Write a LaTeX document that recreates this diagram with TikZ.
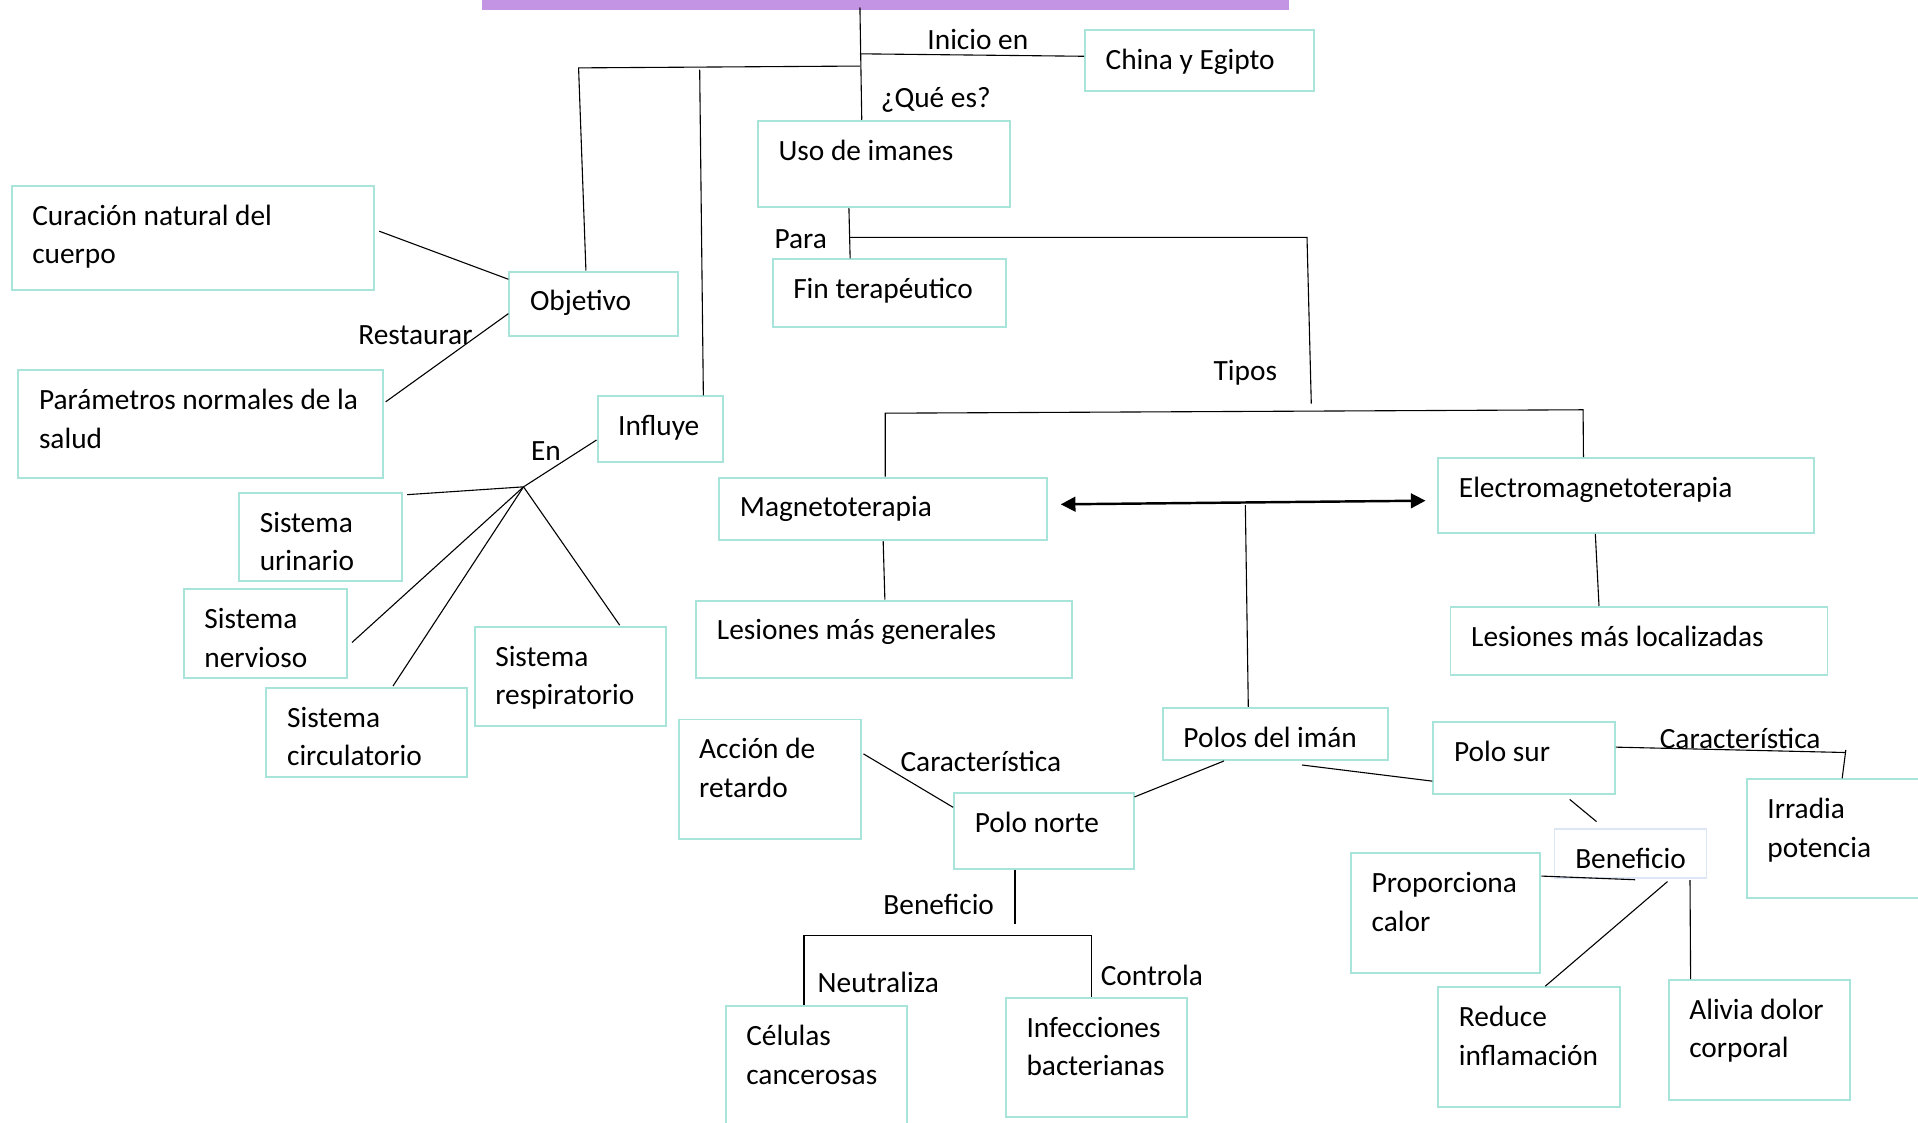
\documentclass[tikz,border=0pt]{standalone}
\usepackage{fontspec}
\setmainfont{Carlito}
\usetikzlibrary{arrows.meta,fit}
\definecolor{bxc}{RGB}{168,228,218}
\definecolor{benc}{RGB}{220,230,244}
\definecolor{barc}{RGB}{196,148,228}
\newcommand\btext[2]{\node[txt,anchor=base west] (#1-t) at ([xshift=17.5pt,yshift=-33pt]#1.north west) {\parbox[t]{400pt}{\raggedright #2}};}
\newcommand\lbl[4]{\node[txt,anchor=base west] (#1) at (#2,#3+1) {#4};}
\begin{document}
\begin{tikzpicture}[x=1pt,y=-1pt,
  bx/.style={draw=bxc,line width=1.6pt,inner sep=0pt,fit={#1}},
  bxl/.style={draw=benc,line width=1.4pt,inner sep=0pt,fit={#1}},
  txt/.style={inner sep=0pt,font=\fontsize{24}{31.5}\selectfont},
  ln/.style={draw=black,line width=0.9pt},
  dbl/.style={draw=black,line width=2pt,{Triangle[length=12pt,width=12pt]}-{Triangle[length=12pt,width=12pt]}}]
\useasboundingbox (0,0) rectangle (1568,917.3);
\clip (0,0) rectangle (1568,917.3);
\fill[barc] (394,-2) rectangle (1054,8);
\coordinate (bar) at (703,6);

% boxes
\node[bx={(887,24.8)(1074,74.5)}] (china) {};
\node[bx={(619.6,98.7)(825.7,169.3)}] (uso) {};
\node[bx={(631.6,212)(822.8,267.7)}] (fin) {};
\node[bx={(9.5,152)(306,237)}] (cur) {};
\node[bx={(416.4,222)(554.6,275)}] (obj) {};
\node[bx={(15,302.8)(312.8,390.4)}] (par) {};
\node[bx={(488.5,324)(591,377.5)}] (inf) {};
\node[bx={(195.5,403)(329,474.8)}] (uri) {};
\node[bx={(150.2,481.8)(283.8,554.5)}] (ner) {};
\node[bx={(217.8,562.5)(381.5,635)}] (cir) {};
\node[bx={(388,512.6)(544.2,593.5)}] (res) {};
\node[bx={(588,390.4)(856.3,441.5)}] (mag) {};
\node[bx={(1175.8,374.6)(1483,435.6)}] (ele) {};
\node[bx={(569.2,491)(876.2,554)}] (lg) {};
\node[bx={(1185.8,496)(1494,551.6)}] (ll) {};
\node[bx={(950.6,578.6)(1134.9,621.3)}] (polos) {};
\node[bx={(1171.8,590.3)(1320.2,648.9)}] (sur) {};
\node[bx={(780,648.6)(926.7,710.4)}] (norte) {};
\node[bx={(554.7,588.2)(703.9,685.8)}] (acc) {};
\node[bx={(593.2,822.6)(741.5,940)}] (cel) {};
\node[bx={(822.3,815.9)(970.6,913.4)}] (infe) {};
\node[bxl={(1270.8,677.6)(1395.1,718)}] (ben) {};
\node[bx={(1428,637)(1590,734.4)}] (irr) {};
\node[bx={(1104.5,697.5)(1259.2,795.4)}] (pro) {};
\node[bx={(1175.8,807)(1324.2,904.7)}] (red) {};
\node[bx={(1364.1,801.2)(1512.5,899.3)}] (ali) {};

% box texts
\btext{china}{China y Egipto}
\btext{uso}{Uso de imanes}
\btext{fin}{Fin terapéutico}
\btext{cur}{Curación natural del\\cuerpo}
\btext{obj}{Objetivo}
\btext{par}{Parámetros normales de la\\salud}
\btext{inf}{Influye}
\btext{uri}{Sistema\\urinario}
\btext{ner}{Sistema\\nervioso}
\btext{cir}{Sistema\\circulatorio}
\btext{res}{Sistema\\respiratorio}
\btext{mag}{Magnetoterapia}
\btext{ele}{Electromagnetoterapia}
\btext{lg}{Lesiones más generales}
\btext{ll}{Lesiones más localizadas}
\btext{polos}{Polos del imán}
\btext{sur}{Polo sur}
\btext{norte}{Polo norte}
\btext{acc}{Acción de\\retardo}
\btext{cel}{Células\\cancerosas}
\btext{infe}{Infecciones\\bacterianas}
\btext{ben}{Beneficio}
\btext{irr}{Irradia\\potencia}
\btext{pro}{Proporciona\\calor}
\btext{red}{Reduce\\inflamación}
\btext{ali}{Alivia dolor\\corporal}

% labels
\lbl{l-inicio}{758}{39.4}{Inicio en}
\lbl{l-que}{720}{87}{¿Qué es?}
\lbl{l-para}{633}{202}{Para}
\lbl{l-rest}{292.8}{281}{Restaurar}
\lbl{l-en}{434}{375.8}{En}
\lbl{l-tipos}{992}{310}{Tipos}
\lbl{l-carL}{736}{630}{Característica}
\lbl{l-benL}{722}{747}{Beneficio}
\lbl{l-neu}{668.3}{810}{Neutraliza}
\lbl{l-con}{899.7}{805}{Controla}
\lbl{l-carR}{1356.7}{610.7}{Característica}

% junctions
\coordinate (jL) at (703,54);
\coordinate (jLL) at (473,55.5);
\coordinate (jI) at (703,44);
\coordinate (jP) at (694.8,194);
\coordinate (jPR) at (1068.5,194);
\coordinate (jT) at (1072,330);
\coordinate (jTL) at (723.7,337.8);
\coordinate (jTR) at (1294.2,335);
\coordinate (fan) at (428,398);
\coordinate (arrL) at (867.2,412.3);
\coordinate (arrR) at (1165.4,409.3);
\coordinate (arrM) at (1018.1,413);
\coordinate (jB) at (829.8,755.2);
\coordinate (jBL) at (657.3,764.9);
\coordinate (jBR) at (892.2,764.9);
\coordinate (jC) at (1509,613);

% connectors
\draw[ln] (bar) -- (704.5,0 |- uso.north);
\draw[ln] (jI) -- (china.west |- 0,46);
\draw[ln] (jL) -- (jLL) -- (479,0 |- obj.north);
\draw[ln] (572,57) -- (575,0 |- inf.north);
\draw[ln] (694,0 |- uso.south) -- (695,0 |- fin.north);
\draw[ln] (jP) -- (jPR) -- (jT);
\draw[ln] (310,189) -- (obj.north west |- 0,228.3);
\draw[ln] (obj.west |- 0,256.4) -- (315.3,328.5);
\draw[ln] (inf.west |- 0,359.7) -- (fan);
\draw[ln] (fan) -- (332.8,404.4);
\draw[ln] (fan) -- (287.8,525.2);
\draw[ln] (fan) -- (321.3,560.8);
\draw[ln] (fan) -- (506.6,511.1);
\draw[ln] (723.7,0 |- mag.north) -- (jTL) -- (jTR) -- (1294.5,0 |- ele.north);
\draw[dbl] (arrL) -- (arrR);
\draw[ln] (arrM) -- (1020.5,0 |- polos.north);
\draw[ln] (722,0 |- mag.south) -- (723.4,0 |- lg.north);
\draw[ln] (1304.2,0 |- ele.south) -- (1307.2,0 |- ll.north);
\draw[ln] (1064.4,625.4) -- (sur.west |- 0,638.6);
\draw[ln] (1000.6,0 |- polos.south) -- (norte.east |- 0,651.5);
\draw[ln] (705.9,616.3) -- (norte.west |- 0,660);
\draw[ln] (829.8,711.2) -- (jB);
\draw[ln] (657.3,0 |- cel.north) -- (jBL) -- (jBR) -- (892.2,0 |- infe.north);
\draw[ln] (1283.2,653.5) -- (1305.2,671.7);
\draw[ln] (sur.east |- 0,610.8) -- (1509,615.2);
\draw[ln] (jC) -- (1506,0 |- irr.north);
\draw[ln] (pro.east |- 0,716.2) -- (1336.7,719.2);
\draw[ln] (1363.2,720.7) -- (1263.3,0 |- red.north);
\draw[ln] (1381.6,719.5) -- (1382.1,0 |- ali.north);
\end{tikzpicture}
\end{document}
